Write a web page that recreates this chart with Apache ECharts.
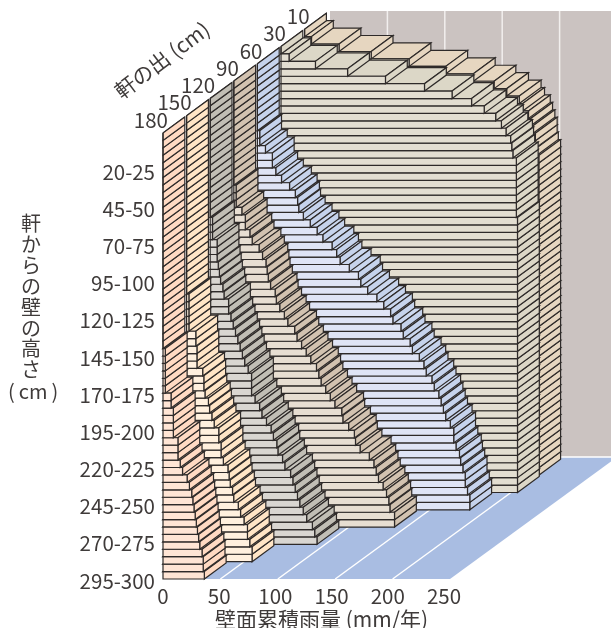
<!DOCTYPE html>
<html><head><meta charset="utf-8">
<style>html,body{margin:0;padding:0;background:#fff}#c{width:611px;height:628px}</style>
<script src="https://cdn.jsdelivr.net/npm/echarts@6/dist/echarts.min.js"></script>
</head><body><div id="c"></div>
<script>
const heightBins=['0-5','5-10','10-15','15-20','20-25','25-30','30-35','35-40','40-45','45-50',
'50-55','55-60','60-65','65-70','70-75','75-80','80-85','85-90','90-95','95-100',
'100-105','105-110','110-115','115-120','120-125','125-130','130-135','135-140','140-145','145-150',
'150-155','155-160','160-165','165-170','170-175','175-180','180-185','185-190','190-195','195-200',
'200-205','205-210','210-215','215-220','220-225','225-230','230-235','235-240','240-245','245-250',
'250-255','255-260','260-265','265-270','270-275','275-280','280-285','285-290','290-295','295-300'];
const eaveLabels=['180','150','120','90','60','30','10'];
const rainTicks=[0,50,100,150,200,250];
const eave180=[0,0,0,0,0,0,0,0,0,0, 0,0,0,0,0,0,0,0,0,0, 0,0,0,0,0,0,0,0,0,2,
 2,2,2,2,2,7,7,9,9,9, 9,13,13,13,15,17,21,23,25,26, 27,28,29,30,31,32,34,35,35,36];
const eave150=[0,0,0,0,0,0,0,0,0,0, 0,0,0,0,0,0,0,0,0,0, 0,0,0,0,2,2,2,2,2,8,
 8,9,9,9,14,15,15,16,19,20, 22,24,28,28,30,30,32,36,37,38, 40,41,45,47,50,53,53,55,57,57];
const eave120=[0,0,0,0,0,0,0,0,0,0, 0,0,0,0,0,0,2,2,2,6, 6,6,7,8,9,11,12,16,16,18,
 20,22,24,26,28,30,33,36,36,36, 39,43,45,49,53,55,58,59,63,65, 70,72,74,76,78,81,84,89,91,93];
const eave90=[0,0,0,0,0,0,0,0,0,0, 0,0,0,0,2,2,2,7,10,10, 14,16,22,25,28,29,30,32,36,37,
 40,44,47,53,55,59,63,67,72,74, 76,80,84,88,94,95,100,105,106,110, 118,122,124,126,130,133,135,136,140,140];
const eave60=[0,0,0,0,0,0,0,0,0,2, 2,7,13,13,16,21,28,33,35,36, 40,46,52,57,65,69,72,80,88,90,
 96,104,110,116,118,125,127,133,135,141, 145,147,152,154,158,160,162,164,168,171, 171,173,176,177,179,181,181,183,185,185];
const eave30=[0,7,30,58,91,125,149,166,177,187, 192,196,200,201,202,205,205,205,205,205, 205,205,205,206,206,206,206,206,206,206,
 206,206,206,206,206,206,206,206,206,206, 206,206,206,206,206,206,206,206,206,206, 206,206,206,206,206,206,206,206,206,206];
const eave10=[0,6,30,58,91,123,147,165,176,187, 190,195,197,199,201,201,202,204,204,204, 204,204,204,204,204,204,204,204,204,204,
 204,204,204,204,204,204,204,204,204,204, 204,204,204,204,204,204,204,204,204,204, 204,204,204,204,204,204,204,204,204,204];
const columns=[eave180,eave150,eave120,eave90,eave60,eave30,eave10];
const faceColors=['#FFE5D5','#FFF0DE','#D9D6D1','#E7DED2','#DFE4F5','#E3DED1','#E3DED1'];
const sideColors=['#FFDAC3','#FFE5C6','#C1BEB5','#D2C2B0','#C6D3EC','#DCD7C7','#E6D6C0'];
const topColors=['#FFDAC3','#FFE5C6','#C8C5BC','#D8C9B8','#CBD7EE','#DCD7C7','#E6D6C0'];

const FF='"Noto Sans CJK JP","Noto Sans",sans-serif';
const INK='#3f3b3a';
const EDGE='#2e2a29';
const SLOT=[23.6,-17.3];
const SLAB=[21.8,-16];
const ROOM=[167,-122];
const font='20.5px '+FF;

function poly(points,fill,stroke,w){
  return {type:'polygon',shape:{points},style:{fill,stroke:stroke||'none',lineWidth:w||0,lineJoin:'miter'},silent:true};
}
function renderSlab(col){
  return function(params,api){
    const value=api.value(0),bin=api.value(1);
    const band=api.size([0,1])[1];
    const a=api.coord([0,bin]),b=api.coord([value,bin]);
    const ox=SLOT[0]*col,oy=SLOT[1]*col;
    const x0=a[0]+ox,x1=b[0]+ox,yt=a[1]-band/2+oy,yb=a[1]+band/2+oy;
    const dx=SLAB[0],dy=SLAB[1],S=EDGE,W=1.2;
    return {type:'group',children:[
      poly([[x0,yt],[x1,yt],[x1+dx,yt+dy],[x0+dx,yt+dy]],topColors[col],S,W),
      poly([[x1,yt],[x1,yb],[x1+dx,yb+dy],[x1+dx,yt+dy]],sideColors[col],S,W),
      poly([[x0,yt],[x1,yt],[x1,yb],[x0,yb]],faceColors[col],S,W)
    ]};
  };
}
const last=heightBins.length-1;
function renderRoom(params,api){
  const band=api.size([0,1])[1];
  const tl=api.coord([0,0]),bl=api.coord([0,last]),br=api.coord([250,last]);
  const top=tl[1]-band/2,bot=bl[1]+band/2,L=bl[0],R=br[0],dx=ROOM[0],dy=ROOM[1];
  const kids=[
    poly([[L+dx,top+dy],[R+dx,top+dy],[R+dx,bot+dy],[L+dx,bot+dy]],'#CBC3C1'),
    poly([[L,bot],[R,bot],[R+dx,bot+dy],[L+dx,bot+dy]],'#A9BDE2'),
    {type:'line',shape:{x1:L+dx,y1:bot+dy,x2:R+dx,y2:bot+dy},style:{stroke:'#fff',lineWidth:1.5},silent:true}
  ];
  rainTicks.slice(1,-1).forEach(t=>{
    const x=api.coord([t,last])[0];
    kids.push({type:'line',shape:{x1:x,y1:bot,x2:x+dx,y2:bot+dy},style:{stroke:'#fff',lineWidth:1.5},silent:true});
    kids.push({type:'line',shape:{x1:x+dx,y1:bot+dy,x2:x+dx,y2:top+dy},style:{stroke:'#F2EFEE',lineWidth:1.5},silent:true});
  });
  return {type:'group',children:kids};
}
function renderEaveLabel(params,api){
  const i=api.value(0);
  const band=api.size([0,1])[1];
  const a=api.coord([0,0]);
  return {type:'text',x:a[0]+SLOT[0]*i+5,y:a[1]-band/2+SLOT[1]*i-13,silent:true,
    style:{text:eaveLabels[i],fill:INK,font,textAlign:'right',textVerticalAlign:'middle'}};
}
const series=[{type:'custom',z:1,silent:true,renderItem:renderRoom,data:[[0,0]],encode:{x:0,y:1},clip:false}];
for(let i=columns.length-1;i>=0;i--){
  series.push({type:'custom',name:eaveLabels[i],z:10+(columns.length-i),silent:true,clip:false,
    renderItem:renderSlab(i),encode:{x:0,y:1},
    data:columns[i].map((v,b)=>[v,b]).reverse()});
}
series.push({type:'custom',z:30,silent:true,clip:false,renderItem:renderEaveLabel,encode:{x:1,y:2},
  data:eaveLabels.map((t,i)=>[i,0,0])});

const chart=echarts.init(document.getElementById('c'),null,{renderer:'canvas'});
chart.setOption({
  animation:false,
  backgroundColor:'#fff',
  textStyle:{fontFamily:FF},
  grid:[{left:163,top:133,width:287,height:446,outerBoundsMode:'none'},
        {left:163,top:138.5,width:281,height:446,outerBoundsMode:'none'}],
  xAxis:[
    {type:'value',gridIndex:0,min:0,max:250,interval:50,show:false},
    {type:'value',gridIndex:1,min:0,max:250,interval:50,position:'bottom',
     axisLine:{show:false},axisTick:{show:false},splitLine:{show:false},
     axisLabel:{color:INK,fontSize:20.5,fontFamily:FF,margin:1,hideOverlap:false},
     name:'壁面累積雨量 (mm/年)',nameLocation:'middle',nameGap:24,nameMoveOverlap:false,
     nameTextStyle:{color:INK,fontSize:21,fontFamily:FF,padding:[0,0,0,36]}}
  ],
  yAxis:[
    {type:'category',gridIndex:0,inverse:true,data:heightBins,show:false},
    {type:'category',gridIndex:1,inverse:true,data:heightBins,
     axisLine:{show:false},axisTick:{show:false},splitLine:{show:false},
     axisLabel:{color:INK,fontSize:20.5,fontFamily:FF,margin:8,
       interval:(i)=>i%5===4}}
  ],
  graphic:[
    {type:'text',left:21,top:213,silent:true,z:40,
     style:{text:'軒\nか\nら\nの\n壁\nの\n高\nさ',fill:INK,font:'20px '+FF,lineHeight:20.9,textAlign:'left'}},
    {type:'text',left:8,top:381,silent:true,z:40,
     style:{text:'(\u2009cm\u2009)',fill:INK,font:'20px '+FF}},
    {type:'text',x:162,y:60,rotation:37*Math.PI/180,silent:true,z:40,
     style:{text:'軒の出 (cm)',fill:INK,font:'21px '+FF,textAlign:'center',textVerticalAlign:'middle'}}
  ],
  series
});
</script></body></html>
